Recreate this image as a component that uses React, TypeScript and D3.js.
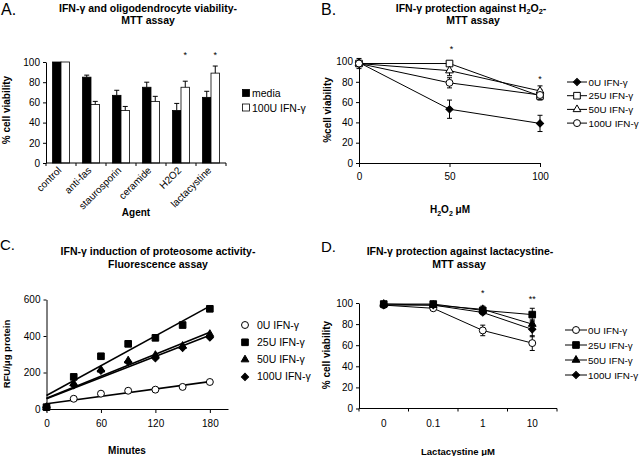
import React, { useEffect, useRef } from "react";
import * as d3 from "d3";

const FONT = "'Liberation Sans', Arial, sans-serif";

// A: viability per agent
const agents = ["control", "anti-fas", "staurosporin", "ceramide", "H2O2", "lactacystine"];
const mediaViability = [100, 85, 67, 75, 52, 65];
const mediaErr = [0, 2, 5, 5, 7, 6];
const ifnViability = [100, 58, 52, 61, 75, 89];
const ifnErr = [0, 3, 4, 5, 6, 7];
const agentStars = ["", "", "", "", "*", "*"];
const barSeries = ["media", "100U IFN-γ"];

// B: H2O2 dose response
const h2o2Doses = [0, 50, 100];
const doseSeries = ["0U IFN-γ", "25U IFN-γ", "50U IFN-γ", "100U IFN-γ"];
const b0U = [99, 53, 39];
const b0UErr = [1, 9, 8];
const b25U = [98, 98, 66];
const b25UErr = [1, 1, 3];
const b50U = [98, 91, 71];
const b50UErr = [1, 5, 5];
const b100U = [98, 79, 67];
const b100UErr = [5, 5, 5];
const h2o2Stars = ["", "*", "*"];

// C: proteasome activity over time
const minutes = [0, 30, 60, 90, 120, 150, 180];
const c0U = [10, 56, 84, 100, 106, 121, 148];
const c25U = [10, 176, 289, 357, 390, 460, 549];
const c50U = [10, 140, 215, 265, 295, 345, 410];
const c100U = [10, 130, 210, 258, 278, 335, 392];

// D: lactacystine dose response
const lactDoses = ["0", "0.1", "1", "10"];
const d0U = [98, 95, 74, 62];
const d0UErr = [1, 1, 5, 7];
const d25U = [99, 99, 93, 89];
const d25UErr = [1, 1, 2, 6];
const d50U = [99, 98, 94, 80];
const d50UErr = [1, 1, 3, 4];
const d100U = [98, 98, 91, 75];
const d100UErr = [1, 1, 2, 7];
const lactStars = ["", "", "*", "**"];

type Part = [string, boolean?];

const TICK = 10;
const LEG = 10.5;
const LEG_RIGHT = 9.8;
const TITLE = 10.5;

const App = () => {
  const svgRef = useRef<SVGSVGElement>(null);

  useEffect(() => {
    const svg = d3.select(svgRef.current);
    svg.selectAll("*").remove();
    svg.attr("font-family", FONT);

    const styleAxis = (g: any, size = TICK) => {
      g.attr("font-family", null).attr("font-size", null);
      g.selectAll("text").attr("font-size", size).attr("fill", "#000");
      g.selectAll("line,path").attr("stroke", "#000");
    };

    // text with optional subscripts
    const rich = (x: number, y: number, parts: Part[], size: number, weight = "bold") => {
      const t = svg
        .append("text")
        .attr("x", x)
        .attr("y", y)
        .attr("text-anchor", "middle")
        .attr("font-size", size)
        .attr("font-weight", weight);
      let down = false;
      parts.forEach(([s, sub]) => {
        const ts = t.append("tspan").text(s);
        if (sub) {
          ts.attr("font-size", size * 0.7);
          if (!down) ts.attr("dy", 2.5);
          down = true;
        } else if (down) {
          ts.attr("dy", -2.5);
          down = false;
        }
      });
      return t;
    };

    const letter = (x: number, y: number, s: string, size: number) =>
      svg.append("text").attr("x", x).attr("y", y).attr("font-size", size).text(s);

    const yLabel = (x: number, y: number, s: string, size = 10) =>
      svg
        .append("text")
        .attr("transform", `translate(${x},${y}) rotate(-90)`)
        .attr("text-anchor", "middle")
        .attr("font-size", size)
        .attr("font-weight", "bold")
        .text(s);

    const star = (x: number, y: number, s: string) =>
      svg.append("text").attr("x", x).attr("y", y).attr("text-anchor", "middle").attr("font-size", 9).text(s);

    const marker = (g: any, kind: string, filled: boolean, x: number, y: number) => {
      const types: any = {
        circle: [d3.symbolCircle, 38],
        square: [d3.symbolSquare, 44],
        triangle: [d3.symbolTriangle, 26],
        diamond: [d3.symbolSquare, 26],
      };
      g.append("path")
        .attr("d", d3.symbol().type(types[kind][0]).size(types[kind][1])())
        .attr("transform", `translate(${x},${y})` + (kind === "diamond" ? " rotate(45)" : ""))
        .attr("fill", filled ? "#000" : "#fff")
        .attr("stroke", "#000")
        .attr("stroke-width", 1);
    };

    const errBar = (g: any, x: number, yHi: number, yLo: number, cap = 2.5) => {
      g.append("line").attr("x1", x).attr("x2", x).attr("y1", yHi).attr("y2", yLo).attr("stroke", "#000");
      [yHi, yLo].forEach((yy) =>
        g.append("line").attr("x1", x - cap).attr("x2", x + cap).attr("y1", yy).attr("y2", yy).attr("stroke", "#000")
      );
    };

    // ---------- A ----------
    letter(1, 15, "A.", 16);
    rich(148, 11.5, [["IFN-γ and oligodendrocyte viability-"]], TITLE);
    rich(148, 24, [["MTT assay"]], TITLE);

    const xA = d3.scaleBand().domain(agents).range([46, 226]);
    const xSub = d3.scaleBand().domain(barSeries).range([0, xA.bandwidth()]).paddingOuter(0.76);
    const yA = d3.scaleLinear().domain([0, 100]).range([163, 62]);

    const gA = svg.append("g");
    agents.forEach((a, i) => {
      const vals = [mediaViability[i], ifnViability[i]];
      const errs = [mediaErr[i], ifnErr[i]];
      barSeries.forEach((s, j) => {
        const x0 = xA(a)! + xSub(s)!;
        gA.append("rect")
          .attr("x", x0)
          .attr("y", yA(vals[j]))
          .attr("width", xSub.bandwidth())
          .attr("height", yA(0) - yA(vals[j]))
          .attr("fill", j === 0 ? "#000" : "#fff")
          .attr("stroke", "#000")
          .attr("stroke-width", 0.8);
        if (errs[j] > 0) {
          const cx = x0 + xSub.bandwidth() / 2;
          gA.append("line").attr("x1", cx).attr("x2", cx).attr("y1", yA(vals[j])).attr("y2", yA(vals[j] + errs[j])).attr("stroke", "#000");
          gA.append("line").attr("x1", cx - 2.5).attr("x2", cx + 2.5).attr("y1", yA(vals[j] + errs[j])).attr("y2", yA(vals[j] + errs[j])).attr("stroke", "#000");
        }
      });
      if (agentStars[i]) star(xA(a)! + xSub(barSeries[1])! + xSub.bandwidth() / 2, 57.5, agentStars[i]);
    });

    const yAxA = svg.append("g").attr("transform", "translate(46,0)").call(d3.axisLeft(yA).tickValues([0, 20, 40, 60, 80, 100]).tickSize(3).tickPadding(3).tickSizeOuter(0));
    styleAxis(yAxA);
    // category axis with ticks between bands
    const xAxA = svg.append("g");
    xAxA.append("line").attr("x1", 46).attr("x2", 226).attr("y1", yA(0)).attr("y2", yA(0)).attr("stroke", "#000");
    [...agents.map((a) => xA(a)!), 226].forEach((x) =>
      xAxA.append("line").attr("x1", x).attr("x2", x).attr("y1", yA(0)).attr("y2", yA(0) + 3).attr("stroke", "#000")
    );
    agents.forEach((a) =>
      svg
        .append("text")
        .attr("transform", `translate(${xA(a)! + xA.bandwidth() / 2 + 1},${yA(0) + 8}) rotate(-45)`)
        .attr("text-anchor", "end")
        .attr("font-size", TICK)
        .text(a)
    );
    yLabel(10, 110, "% cell viability");
    rich(136, 216, [["Agent"]], 10);

    // legend A
    barSeries.forEach((s, j) => {
      svg.append("rect").attr("x", 242.5).attr("y", 89.5 + j * 14.5).attr("width", 7).attr("height", 7)
        .attr("fill", j === 0 ? "#000" : "#fff").attr("stroke", "#000").attr("stroke-width", 0.8);
      svg.append("text").attr("x", 252).attr("y", 97 + j * 14.5).attr("font-size", LEG).text(s);
    });

    // ---------- B ----------
    letter(321, 15, "B.", 16);
    rich(471, 11.5, [["IFN-γ protection against H"], ["2", true], ["O"], ["2", true], ["-"]], TITLE);
    rich(473, 24, [["MTT assay"]], TITLE);

    const xB = d3.scaleLinear().domain([0, 100]).range([359, 540]);
    const yB = d3.scaleLinear().domain([0, 100]).range([163, 61.5]);
    const bVals = [b0U, b25U, b50U, b100U];
    const bErrs = [b0UErr, b25UErr, b50UErr, b100UErr];
    const bMarks: [string, boolean][] = [["diamond", true], ["square", false], ["triangle", false], ["circle", false]];

    const yAxB = svg.append("g").attr("transform", "translate(359,0)").call(d3.axisLeft(yB).tickValues([0, 20, 40, 60, 80, 100]).tickSize(3).tickPadding(3).tickSizeOuter(0));
    styleAxis(yAxB);
    const xAxB = svg.append("g").attr("transform", `translate(0,${yB(0)})`).call(d3.axisBottom(xB).tickValues(h2o2Doses).tickSize(4).tickPadding(6).tickSizeOuter(0));
    styleAxis(xAxB);

    const gB = svg.append("g");
    const lineB = d3.line<number>().x((_, i) => xB(h2o2Doses[i])).y((d) => yB(d));
    bVals.forEach((v) => gB.append("path").attr("d", lineB(v)).attr("fill", "none").attr("stroke", "#000").attr("stroke-width", 1));
    bVals.forEach((v, k) => v.forEach((d, i) => errBar(gB, xB(h2o2Doses[i]), yB(d + bErrs[k][i]), yB(d - bErrs[k][i]))));
    bVals.forEach((v, k) => v.forEach((d, i) => marker(gB, bMarks[k][0], bMarks[k][1], xB(h2o2Doses[i]), yB(d))));
    h2o2Stars.forEach((s, i) => s && star(xB(h2o2Doses[i]) + (i === 2 ? 0 : 2), i === 2 ? 81.5 : 51.5, s));

    yLabel(331, 110, "%cell viability");
    rich(450, 213, [["H"], ["2", true], ["O"], ["2", true], [" μM"]], 10);

    doseSeries.forEach((s, k) => {
      const y = 82 + k * 13.7;
      svg.append("line").attr("x1", 567).attr("x2", 587).attr("y1", y).attr("y2", y).attr("stroke", "#000");
      marker(svg, bMarks[k][0], bMarks[k][1], 577, y);
      svg.append("text").attr("x", 588.5).attr("y", y + 3.5).attr("font-size", LEG_RIGHT).text(s);
    });

    // ---------- C ----------
    letter(0, 250, "C.", 15);
    rich(158, 255, [["IFN-γ induction of proteosome activity-"]], TITLE);
    rich(158, 268, [["Fluorescence assay"]], TITLE);

    const xC = d3.scaleLinear().domain([0, 200]).range([46.5, 228]);
    const yC = d3.scaleLinear().domain([0, 600]).range([409, 299.5]);
    const cVals = [c0U, c25U, c50U, c100U];
    const cMarks: [string, boolean][] = [["circle", false], ["square", true], ["triangle", true], ["diamond", true]];

    const yAxC = svg.append("g").attr("transform", "translate(46.5,0)").call(d3.axisLeft(yC).tickValues([0, 200, 400, 600]).tickSize(3).tickPadding(3).tickSizeOuter(0));
    styleAxis(yAxC);
    const xAxC = svg.append("g").attr("transform", `translate(0,${yC(0)})`).call(d3.axisBottom(xC).tickValues([0, 60, 120, 180]).tickSize(4).tickPadding(7).tickSizeOuter(0));
    styleAxis(xAxC);

    const gC = svg.append("g");
    // least-squares trendlines
    cVals.forEach((v) => {
      const mx = d3.mean(minutes)!;
      const my = d3.mean(v)!;
      const slope = d3.sum(minutes, (m, i) => (m - mx) * (v[i] - my)) / d3.sum(minutes, (m) => (m - mx) ** 2);
      const icpt = my - slope * mx;
      gC.append("line")
        .attr("x1", xC(0)).attr("y1", yC(icpt))
        .attr("x2", xC(180)).attr("y2", yC(icpt + slope * 180))
        .attr("stroke", "#000").attr("stroke-width", 1.6);
    });
    cVals.forEach((v, k) => v.forEach((d, i) => marker(gC, cMarks[k][0], cMarks[k][1], xC(minutes[i]), yC(d))));

    yLabel(9.5, 354, "RFU/μg protein", 9.5);
    rich(127, 454, [["Minutes"]], 10);

    doseSeries.forEach((s, k) => {
      const y = 325 + k * 17.3;
      marker(svg, cMarks[k][0], cMarks[k][1], 245, y);
      svg.append("text").attr("x", 257).attr("y", y + 3.5).attr("font-size", LEG).text(s);
    });

    // ---------- D ----------
    letter(321, 252, "D.", 15);
    rich(460, 254.5, [["IFN-γ protection against lactacystine-"]], TITLE);
    rich(459, 268, [["MTT assay"]], TITLE);

    const xD = d3.scaleBand().domain(lactDoses).range([359, 557]);
    const yD = d3.scaleLinear().domain([0, 100]).range([408.5, 303]);
    const dVals = [d0U, d25U, d50U, d100U];
    const dErrs = [d0UErr, d25UErr, d50UErr, d100UErr];
    const dMarks: [string, boolean][] = [["circle", false], ["square", true], ["triangle", true], ["diamond", true]];
    const cxD = (s: string) => xD(s)! + xD.bandwidth() / 2;

    const yAxD = svg.append("g").attr("transform", "translate(359,0)").call(d3.axisLeft(yD).tickValues([0, 20, 40, 60, 80, 100]).tickSize(3).tickPadding(3).tickSizeOuter(0));
    styleAxis(yAxD);
    const xAxD = svg.append("g");
    xAxD.append("line").attr("x1", 359).attr("x2", 557).attr("y1", yD(0)).attr("y2", yD(0)).attr("stroke", "#000");
    [...lactDoses.map((s) => xD(s)!), 557].forEach((x) =>
      xAxD.append("line").attr("x1", x).attr("x2", x).attr("y1", yD(0)).attr("y2", yD(0) + 3).attr("stroke", "#000")
    );
    lactDoses.forEach((s) =>
      svg.append("text").attr("x", cxD(s)).attr("y", yD(0) + 18).attr("text-anchor", "middle").attr("font-size", TICK).text(s)
    );

    const gD = svg.append("g");
    const lineD = d3.line<number>().x((_, i) => cxD(lactDoses[i])).y((d) => yD(d));
    dVals.forEach((v) => gD.append("path").attr("d", lineD(v)).attr("fill", "none").attr("stroke", "#000").attr("stroke-width", 1));
    dVals.forEach((v, k) => v.forEach((d, i) => errBar(gD, cxD(lactDoses[i]), yD(d + dErrs[k][i]), yD(d - dErrs[k][i]))));
    dVals.forEach((v, k) => v.forEach((d, i) => marker(gD, dMarks[k][0], dMarks[k][1], cxD(lactDoses[i]), yD(d))));
    lactStars.forEach((s, i) => s && star(cxD(lactDoses[i]), i === 2 ? 295.5 : 301.5, s));

    yLabel(330, 355, "% cell viability");
    rich(458, 455, [["Lactacystine μM"]], 9.5);

    doseSeries.forEach((s, k) => {
      const y = 330 + k * 15;
      svg.append("line").attr("x1", 565).attr("x2", 587).attr("y1", y).attr("y2", y).attr("stroke", "#000");
      marker(svg, dMarks[k][0], dMarks[k][1], 576, y);
      svg.append("text").attr("x", 588).attr("y", y + 3.5).attr("font-size", LEG_RIGHT).text(s);
    });
  }, []);

  return (
    <svg
      ref={svgRef}
      width={640}
      height={456}
      style={{ position: "absolute", left: 0, top: 0, background: "#fff" }}
    />
  );
};

export default App;
